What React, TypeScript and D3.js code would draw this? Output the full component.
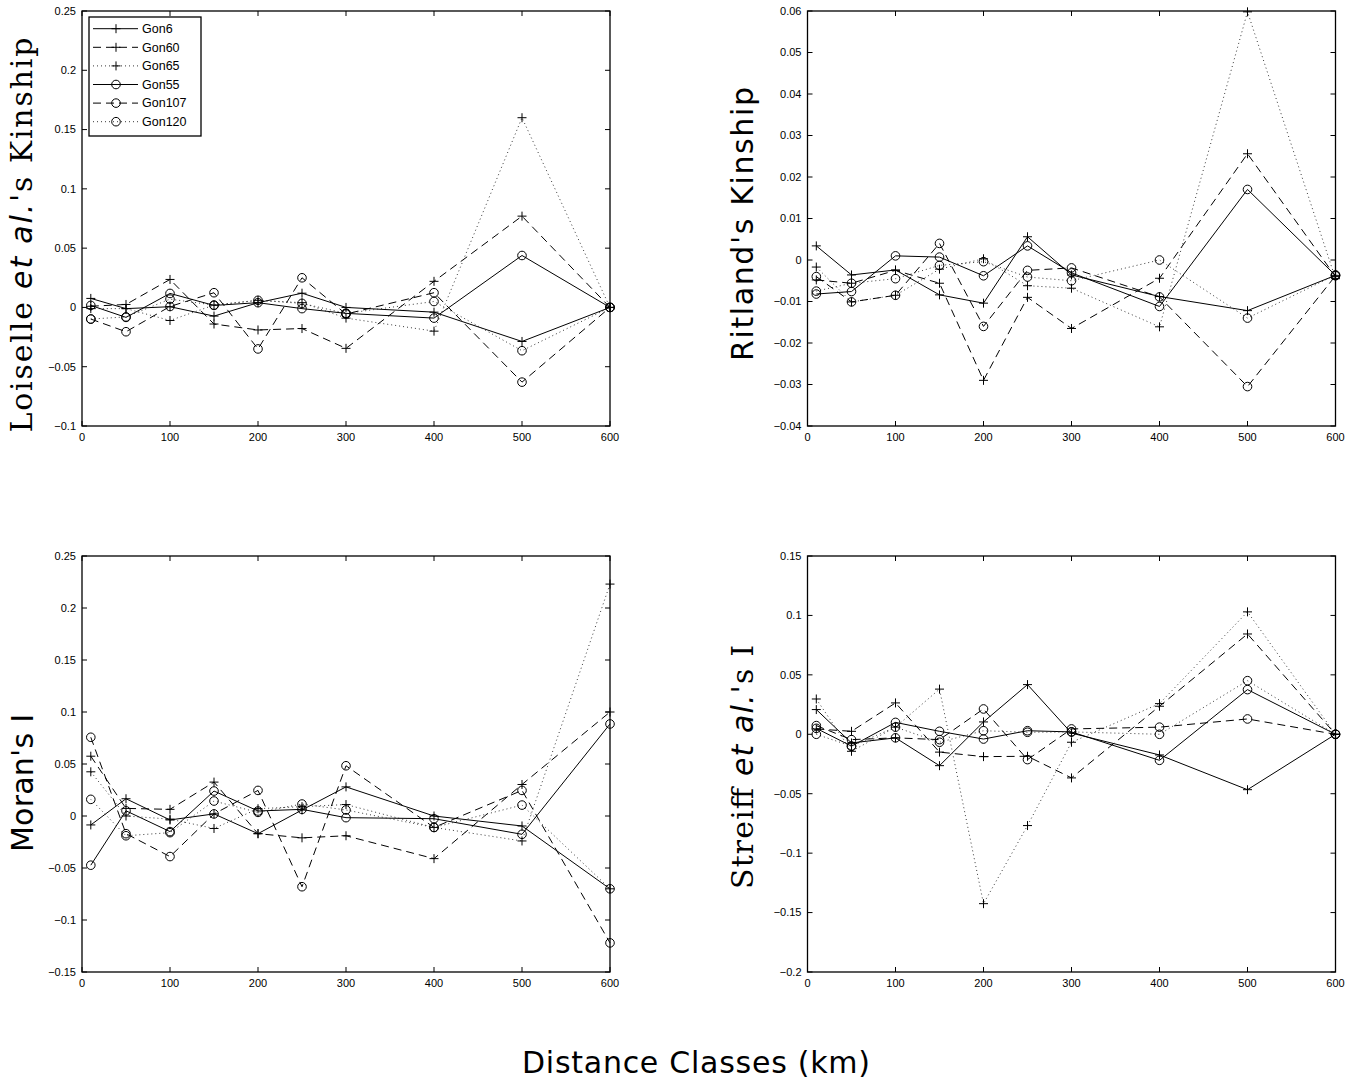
import { useEffect } from "react";
import * as d3 from "d3";

// distance classes (km)
const distances = [10, 50, 100, 150, 200, 250, 300, 400, 500, 600];
const xTicks = [0, 100, 200, 300, 400, 500, 600];

const seriesNames = ["Gon6", "Gon60", "Gon65", "Gon55", "Gon107", "Gon120"];

// one row per population, same order as seriesNames
const loiselleValues = [
  [0.0076, -0.001, 0.0006, -0.0073, 0.004, 0.012, 0.0, -0.004, -0.0287, 0],
  [0.001, 0.0025, 0.0236, -0.014, -0.019, -0.0178, -0.0345, 0.022, 0.077, 0],
  [-0.001, -0.001, -0.011, 0.002, 0.006, 0.004, -0.009, -0.02, 0.16, 0],
  [0.0017, -0.0084, 0.0118, 0.0017, 0.004, -0.001, -0.005, -0.009, 0.0438, 0],
  [-0.0098, -0.0205, 0.0008, 0.0124, -0.035, 0.025, -0.0056, 0.0124, -0.063, 0],
  [-0.0098, -0.008, 0.007, 0.002, 0.006, 0.0034, -0.005, 0.005, -0.0365, 0],
];

const ritlandValues = [
  [0.0034, -0.0036, -0.0024, -0.0084, -0.0104, 0.0056, -0.0036, -0.0088, -0.0122, -0.0037],
  [-0.0048, -0.0056, -0.0025, -0.0056, -0.029, -0.009, -0.0165, -0.0044, 0.0256, -0.004],
  [-0.0017, -0.0101, -0.0085, -0.0022, 0.0003, -0.0062, -0.0068, -0.0161, 0.0598, -0.0045],
  [-0.0082, -0.0076, 0.001, 0.0007, -0.0038, 0.0034, -0.0031, -0.0112, 0.017, -0.0037],
  [-0.004, -0.0101, -0.0085, 0.004, -0.016, -0.0025, -0.0019, -0.0089, -0.0305, -0.0038],
  [-0.0075, -0.0056, -0.0045, -0.0013, -0.0004, -0.0041, -0.005, 0.0, -0.014, -0.0036],
];

const moranValues = [
  [-0.0086, 0.0166, -0.0038, 0.002, -0.017, 0.0058, 0.028, 0.0, -0.0096, -0.07],
  [0.0575, 0.0073, 0.0064, 0.0326, -0.017, -0.021, -0.019, -0.041, 0.0303, 0.1],
  [0.0425, 0.0, -0.003, -0.012, 0.007, 0.009, 0.011, -0.011, -0.024, 0.223],
  [-0.0473, 0.005, -0.015, 0.024, 0.0048, 0.0064, -0.0016, -0.0026, -0.0176, 0.0885],
  [0.0757, -0.017, -0.039, 0.002, 0.0246, -0.068, 0.0483, -0.011, 0.0246, -0.122],
  [0.016, -0.019, -0.016, 0.0144, 0.0035, 0.0115, 0.0058, -0.011, 0.0105, -0.07],
];

const streiffValues = [
  [0.0208, -0.0073, -0.003, -0.0264, 0.0104, 0.0418, 0.001, -0.0174, -0.0466, 0],
  [0.0045, 0.0025, 0.0264, -0.015, -0.0188, -0.0185, -0.0367, 0.0236, 0.0844, 0],
  [0.0297, -0.0143, 0.006, 0.038, -0.1425, -0.0768, -0.0067, 0.0258, 0.103, 0],
  [0.005, -0.01, 0.01, 0.0025, -0.004, 0.003, 0.002, -0.0219, 0.0376, 0],
  [0.0073, -0.0045, -0.003, -0.0045, 0.0213, -0.0213, 0.0045, 0.006, 0.0129, 0],
  [0.0, -0.01, 0.006, -0.0067, 0.003, 0.0017, 0.002, 0.0, 0.0451, 0],
];

const loiselleTicks = [-0.1, -0.05, 0, 0.05, 0.1, 0.15, 0.2, 0.25];
const ritlandTicks = [-0.04, -0.03, -0.02, -0.01, 0, 0.01, 0.02, 0.03, 0.04, 0.05, 0.06];
const moranTicks = [-0.15, -0.1, -0.05, 0, 0.05, 0.1, 0.15, 0.2, 0.25];
const streiffTicks = [-0.2, -0.15, -0.1, -0.05, 0, 0.05, 0.1, 0.15];

const dashes = ["", "8 5", "1 3", "", "8 5", "1 3"];
const markers = ["plus", "plus", "plus", "circle", "circle", "circle"];

const tickFont = "'Liberation Sans', Arial, Helvetica, sans-serif";
const fmt = (v: number) => String(v).replace("-", "\u2212");

function Marker({ type, x, y }: { type: string; x: number; y: number }) {
  if (type === "plus") {
    return (
      <path
        d={`M${x - 4.5},${y}H${x + 4.5}M${x},${y - 4.5}V${y + 4.5}`}
        stroke="#000"
        strokeWidth={1}
        fill="none"
      />
    );
  }
  return <circle cx={x} cy={y} r={4.3} fill="none" stroke="#000" strokeWidth={1} />;
}

function Panel({
  left,
  top,
  width,
  height,
  yTicks,
  values,
  legend,
}: {
  left: number;
  top: number;
  width: number;
  height: number;
  yTicks: number[];
  values: number[][];
  legend?: boolean;
}) {
  const x = d3.scaleLinear().domain([0, 600]).range([left, left + width]);
  const y = d3
    .scaleLinear()
    .domain([yTicks[0], yTicks[yTicks.length - 1]])
    .range([top + height, top]);
  const line = d3
    .line<number>()
    .x((_, i) => x(distances[i]))
    .y((d) => y(d));
  const tl = 5;

  return (
    <g>
      {values.map((row, s) => (
        <g key={s}>
          <path
            d={line(row) || ""}
            fill="none"
            stroke={dashes[s] === "1 3" ? "#222" : "#000"}
            strokeWidth={dashes[s] === "1 3" ? 0.9 : 1}
            strokeDasharray={dashes[s] || undefined}
          />
          {row.map((v, i) => (
            <Marker key={i} type={markers[s]} x={x(distances[i])} y={y(v)} />
          ))}
        </g>
      ))}
      {/* ticks, inward on all four sides */}
      {xTicks.map((t) => (
        <g key={"x" + t}>
          <line x1={x(t)} x2={x(t)} y1={top + height} y2={top + height - tl} stroke="#000" />
          <line x1={x(t)} x2={x(t)} y1={top} y2={top + tl} stroke="#000" />
          <text
            x={x(t)}
            y={top + height + 15}
            textAnchor="middle"
            fontFamily={tickFont}
            fontSize={11}
          >
            {t}
          </text>
        </g>
      ))}
      {yTicks.map((t) => (
        <g key={"y" + t}>
          <line x1={left} x2={left + tl} y1={y(t)} y2={y(t)} stroke="#000" />
          <line x1={left + width} x2={left + width - tl} y1={y(t)} y2={y(t)} stroke="#000" />
          <text
            x={left - 6}
            y={y(t)}
            dy="0.35em"
            textAnchor="end"
            fontFamily={tickFont}
            fontSize={11}
          >
            {fmt(t)}
          </text>
        </g>
      ))}
      <rect x={left} y={top} width={width} height={height} fill="none" stroke="#000" strokeWidth={1.3} />
      {legend && (
        <g>
          <rect x={89} y={17} width={112} height={119} fill="#fff" stroke="#000" strokeWidth={1.3} />
          {seriesNames.map((name, s) => {
            const ly = 28.7 + s * 18.6;
            return (
              <g key={name}>
                <line
                  x1={93}
                  x2={138}
                  y1={ly}
                  y2={ly}
                  stroke={dashes[s] === "1 3" ? "#222" : "#000"}
                  strokeWidth={dashes[s] === "1 3" ? 0.9 : 1}
                  strokeDasharray={dashes[s] || undefined}
                />
                <Marker type={markers[s]} x={116} y={ly} />
                <text x={142} y={ly} dy="0.35em" fontFamily={tickFont} fontSize={12.5}>
                  {name}
                </text>
              </g>
            );
          })}
        </g>
      )}
    </g>
  );
}

export default function App() {
  useEffect(() => {
    document.body.style.margin = "0";
  }, []);

  const serif = "'DejaVu Serif', serif";
  const sans = "'DejaVu Sans', sans-serif";

  return (
    <svg width={1358} height={1079} style={{ display: "block", background: "#fff" }}>
      <Panel left={82} top={11} width={528} height={415} yTicks={loiselleTicks} values={loiselleValues} legend />
      <Panel left={807.5} top={11} width={528} height={415} yTicks={ritlandTicks} values={ritlandValues} />
      <Panel left={82} top={556} width={528} height={416} yTicks={moranTicks} values={moranValues} />
      <Panel left={807.5} top={556} width={528} height={416} yTicks={streiffTicks} values={streiffValues} />

      <text
        transform="translate(32,235) rotate(-90)"
        textAnchor="middle"
        fontSize={30}
        fontFamily={serif}
        textLength={395}
        lengthAdjust="spacing"
      >
        <tspan>Loiselle </tspan>
        <tspan fontFamily={sans} fontStyle="italic">et al.</tspan>
        <tspan>'s Kinship</tspan>
      </text>
      <text
        transform="translate(753,224) rotate(-90)"
        textAnchor="middle"
        fontSize={30}
        fontFamily={sans}
        textLength={274}
        lengthAdjust="spacing"
      >
        Ritland's Kinship
      </text>
      <text
        transform="translate(33,783) rotate(-90)"
        textAnchor="middle"
        fontSize={30}
        fontFamily={sans}
        textLength={138}
        lengthAdjust="spacing"
      >
        Moran's I
      </text>
      <text
        transform="translate(753,767) rotate(-90)"
        textAnchor="middle"
        fontSize={30}
        fontFamily={serif}
        textLength={244}
        lengthAdjust="spacing"
      >
        <tspan>Streiff </tspan>
        <tspan fontFamily={sans} fontStyle="italic">et al.</tspan>
        <tspan>'s I</tspan>
      </text>

      <text
        x={696}
        y={1073}
        textAnchor="middle"
        fontSize={30}
        fontFamily={sans}
        textLength={348}
        lengthAdjust="spacing"
      >
        Distance Classes (km)
      </text>
    </svg>
  );
}
